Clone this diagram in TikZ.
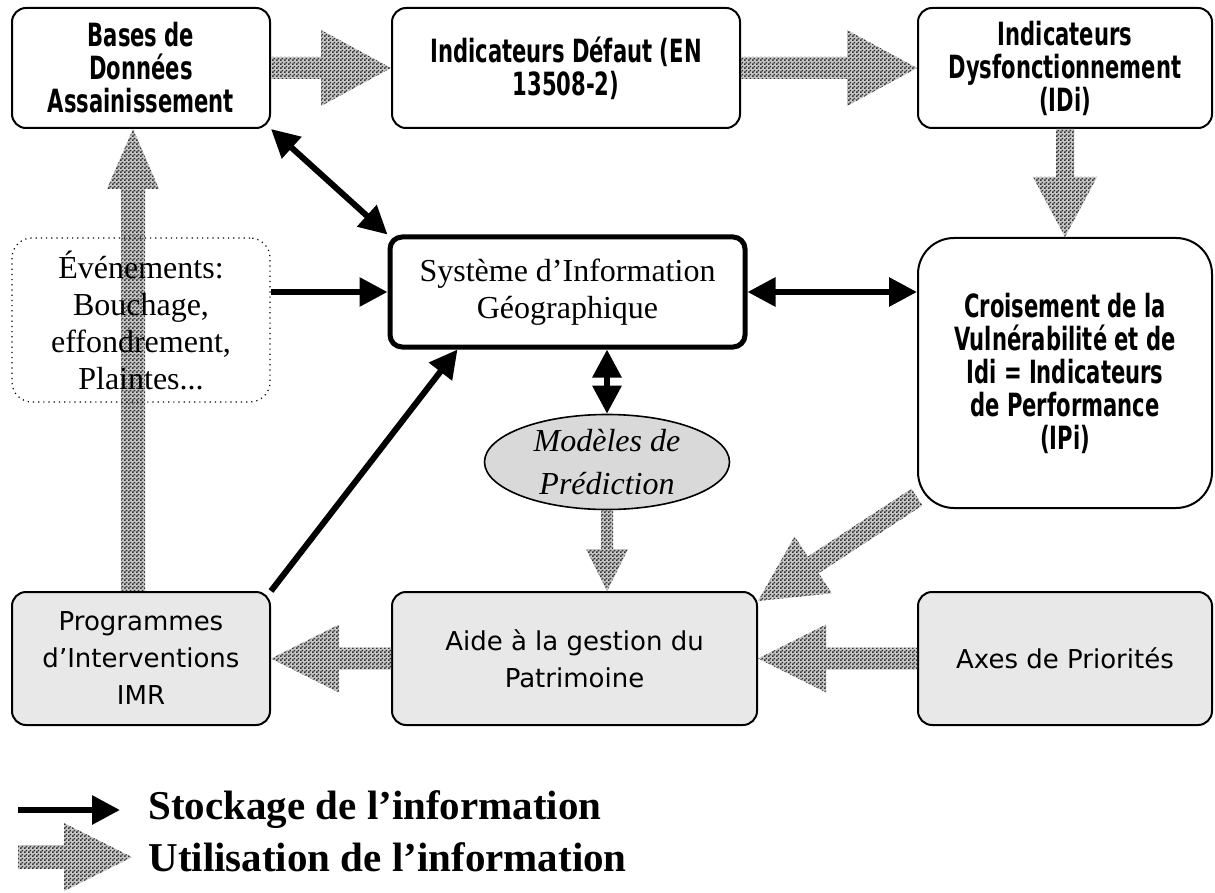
\documentclass[tikz,border=0pt]{standalone}
\usepackage{fontspec}
\setmainfont{Liberation Serif}
\newfontfamily\impactfont{DejaVu Sans Bold}[FakeStretch=0.66]
\newfontfamily\verdfont{DejaVu Sans}
\usetikzlibrary{shapes.geometric, patterns, calc, backgrounds, arrows.meta}

\pgfdeclarepatternformonly{finecheck}{\pgfpointorigin}{\pgfqpoint{2pt}{2pt}}{\pgfqpoint{2pt}{2pt}}{%
  \pgfpathrectangle{\pgfpointorigin}{\pgfqpoint{1pt}{1pt}}%
  \pgfpathrectangle{\pgfqpoint{1pt}{1pt}}{\pgfqpoint{1pt}{1pt}}%
  \pgfusepath{fill}}

% hatched arrow: start, tip, half shaft, half head, head length
\newcommand{\hatcharrow}[5]{%
  \coordinate (ha-neck) at ($(#2)!#5!(#1)$);
  \path[hatch] ($(#1)!#3!90:(#2)$) -- ($(ha-neck)!#3!90:(#2)$) -- ($(ha-neck)!#4!90:(#2)$) -- (#2)
    -- ($(ha-neck)!#4!-90:(#2)$) -- ($(ha-neck)!#3!-90:(#2)$) -- ($(#1)!#3!-90:(#2)$) -- cycle;}

\tikzset{
  hatch/.style={preaction={fill=black!22}, pattern=finecheck, pattern color=black!80},
  topbox/.style={draw, line width=1pt, rounded corners=7pt, align=center, inner sep=2pt,
    font={\impactfont\fontsize{16}{16.5}\selectfont}},
  botbox/.style={draw, line width=1pt, rounded corners=7pt, fill=black!9, align=center, inner sep=2pt,
    font={\verdfont\fontsize{13}{18.5}\selectfont}},
  serifbox/.style={align=center, inner sep=2pt, font={\fontsize{16}{18.5}\selectfont}},
  blk/.style={line width=3pt},
  legtext/.style={anchor=west, inner sep=0pt, font={\bfseries\fontsize{20.5}{24}\selectfont}}
}

\begin{document}
\begin{tikzpicture}[x=0.5pt, y=-0.5pt, >={Triangle[length=14pt,width=14pt]}]
\useasboundingbox (0,0) rectangle (1215,893);

% top row
\node[topbox, minimum width=129pt, minimum height=60pt] (bdd) at (141,68) {Bases de\\Données\\Assainissement};
\node[topbox, minimum width=174pt, minimum height=60pt] (def) at (566,68) {Indicateurs Défaut (EN\\13508-2)};
\node[topbox, minimum width=147pt, minimum height=60pt] (idi) at (1065,68) {Indicateurs\\Dysfonctionnement\\(IDi)};

% middle
\node[serifbox, draw, dotted, line width=0.6pt, rounded corners=10pt, minimum width=129pt, minimum height=82pt] (evt) at (141,320)
  {Événements:\\Bouchage,\\effondrement,\\Plaintes...};
\node[serifbox, draw, line width=2.5pt, rounded corners=6pt, minimum width=177.5pt, minimum height=55pt] (sig) at (567.5,292)
  {Système d’Information\\Géographique};
\node[topbox, rounded corners=18pt, minimum width=147pt, minimum height=135pt] (crois) at (1065,373)
  {Croisement de la\\Vulnérabilité et de\\Idi = Indicateurs\\de Performance\\(IPi)};
\node[ellipse, draw, line width=0.8pt, fill=black!15, inner sep=0pt, align=center, minimum width=122.5pt, minimum height=47.5pt,
  font={\itshape\fontsize{16}{21.5}\selectfont}] (mod) at (607,462) {Modèles de\\Prédiction};

% bottom row
\node[botbox, minimum width=129pt, minimum height=66.5pt] (prog) at (141,658.5) {Programmes\\d’Interventions\\IMR};
\node[botbox, minimum width=182.5pt, minimum height=66.5pt] (aide) at (574.5,658.5) {Aide à la gestion du\\Patrimoine};
\node[botbox, minimum width=147pt, minimum height=66.5pt] (axes) at (1065,658.5) {Axes de Priorités};

% utilisation
\hatcharrow{bdd.east}{def.west}{5.5pt}{19pt}{35pt}
\hatcharrow{def.east}{idi.west}{5.5pt}{19pt}{35pt}
\hatcharrow{idi.south}{crois.north}{4.5pt}{16pt}{30pt}
\coordinate (m1) at (aide.north -| mod.south);
\hatcharrow{mod.south}{m1}{3pt}{10.5pt}{21pt}
\coordinate (d1) at ($(crois.south west)+(0,-12)$);
\coordinate (d2) at ($(aide.north east)+(0,10)$);
\hatcharrow{d1}{d2}{5pt}{17pt}{33pt}
\hatcharrow{aide.west}{prog.east}{5.5pt}{17pt}{34pt}
\hatcharrow{axes.west}{aide.east}{5.5pt}{17pt}{34pt}
\begin{scope}[on background layer]
\coordinate (u1) at ($(prog.north)+(-8,0)$);
\coordinate (u2) at ($(bdd.south)+(-8,0)$);
\hatcharrow{u1}{u2}{6pt}{13pt}{30pt}
\end{scope}

% stockage
\draw[blk, <->] (bdd.south east) -- (sig.north west);
\draw[blk, ->] (evt.east |- sig.west) -- (sig.west);
\draw[blk, <->] (sig.east) -- (sig.east -| crois.west);
\draw[blk, <->] (sig.south -| mod.north) -- (mod.north);
\coordinate (s1) at ($(sig.south west)+(70,0)$);
\draw[blk, ->] (prog.north east) -- (s1);

% legende
\coordinate (l1a) at (18,810);
\coordinate (l1b) at (120,810);
\draw[blk, ->] (l1a) -- (l1b);
\node[legtext] (leg1) at (148,810) {Stockage de l’information};
\coordinate (l2a) at (18,857);
\coordinate (l2b) at (132,857);
\hatcharrow{l2a}{l2b}{6pt}{17pt}{34pt}
\node[legtext] (leg2) at (148,857) {Utilisation de l’information};

\end{tikzpicture}
\end{document}
